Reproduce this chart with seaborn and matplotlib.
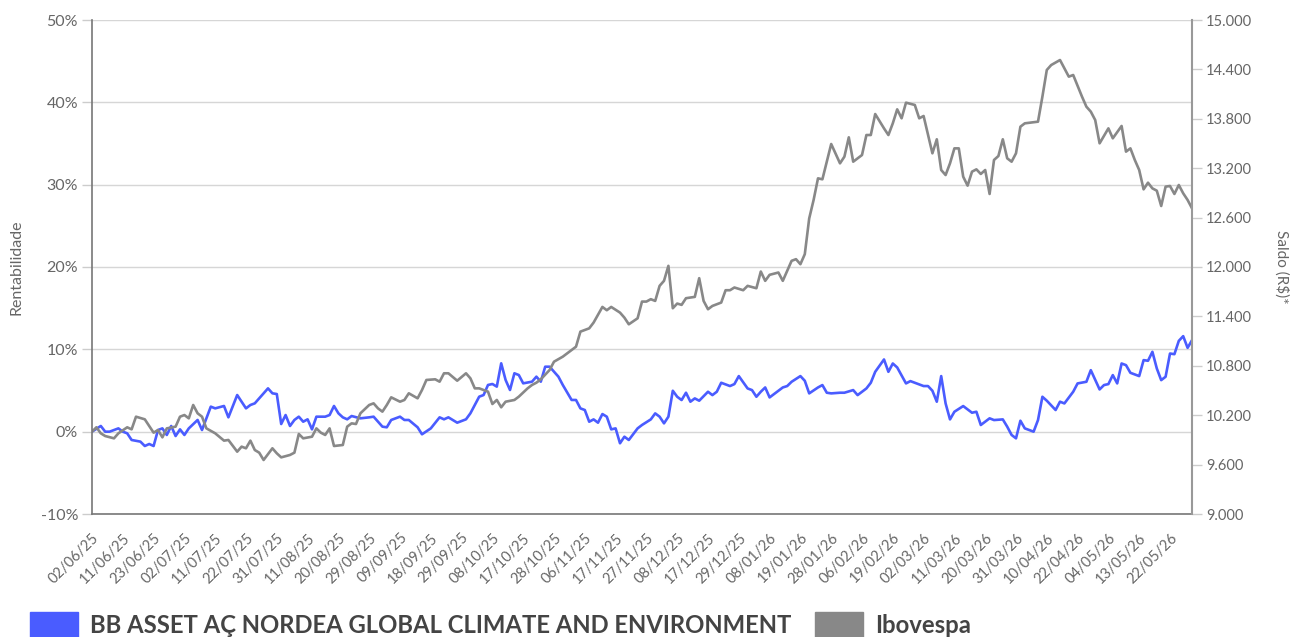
import numpy as np
import pandas as pd
import seaborn as sns
import matplotlib.pyplot as plt
from matplotlib.patches import Patch
from matplotlib.transforms import ScaledTranslation

# rótulos do eixo x, um a cada 7 pregões
tick_labels = ['02/06/25', '11/06/25', '23/06/25', '02/07/25', '11/07/25', '22/07/25',
               '31/07/25', '11/08/25', '20/08/25', '29/08/25', '09/09/25', '18/09/25',
               '29/09/25', '08/10/25', '17/10/25', '28/10/25', '06/11/25', '17/11/25',
               '27/11/25', '08/12/25', '17/12/25', '29/12/25', '08/01/26', '19/01/26',
               '28/01/26', '06/02/26', '19/02/26', '02/03/26', '11/03/26', '20/03/26',
               '31/03/26', '10/04/26', '22/04/26', '04/05/26', '13/05/26', '22/05/26']
tick_step = 7

fund_name = 'BB ASSET AÇ NORDEA GLOBAL CLIMATE AND ENVIRONMENT'
ibov_name = 'Ibovespa'

# pregão (índice) e rentabilidade acumulada (%)
fund_days = [0, 2, 3, 4, 6, 7, 8, 9, 11, 12, 13, 14, 15, 16, 17, 18, 19, 20, 21, 22, 24, 25, 27, 28,
             30, 31, 33, 35, 36, 37, 40, 41, 42, 43, 44, 45, 46, 47, 48, 49, 50, 51, 53, 54, 55, 56,
             57, 58, 59, 61, 63, 64, 66, 67, 68, 70, 71, 72, 74, 75, 77, 79, 80, 81, 83, 85, 86, 88,
             89, 90, 91, 92, 93, 94, 95, 96, 97, 98, 100, 101, 102, 103, 104, 106, 107, 109, 110,
             111, 112, 113, 114, 115, 116, 117, 118, 119, 120, 121, 122, 124, 125, 127, 128, 129,
             130, 131, 132, 133, 134, 135, 136, 137, 138, 140, 141, 142, 143, 145, 146, 147, 149,
             150, 151, 152, 153, 154, 157, 158, 159, 161, 162, 163, 165, 166, 167, 168, 170, 171,
             173, 174, 176, 177, 178, 180, 181, 182, 183, 185, 186, 187, 189, 190, 191, 192, 193,
             194, 195, 196, 198, 200, 201, 202, 204, 205, 207, 208, 209, 210, 211, 212, 214, 215,
             216, 217, 219, 220, 221, 223, 224, 226, 227, 229, 230, 231, 232, 233, 234, 235, 236,
             238, 239, 240, 241, 242, 243, 244, 245, 246, 247, 248, 249, 250]
fund_pct = [0.0, 0.69, 0.0, 0.0, 0.40, 0.0, -0.20, -1.01, -1.21, -1.74, -1.50, -1.74, 0.20, 0.40,
            -0.40, 0.69, -0.53, 0.28, -0.40, 0.40, 1.42, 0.20, 3.04, 2.83, 3.12, 1.74, 4.45, 2.83,
            3.24, 3.44, 5.26, 4.66, 4.57, 0.93, 2.02, 0.69, 1.42, 1.82, 1.21, 1.50, 0.28, 1.82,
            1.82, 2.02, 3.12, 2.23, 1.74, 1.50, 1.90, 1.62, 1.74, 1.82, 0.61, 0.53, 1.42, 1.82,
            1.42, 1.42, 0.53, -0.32, 0.40, 1.74, 1.50, 1.74, 1.09, 1.50, 2.23, 4.25, 4.45, 5.67,
            5.79, 5.47, 8.30, 6.28, 5.06, 7.09, 6.88, 5.87, 6.07, 6.68, 6.07, 7.89, 7.89, 6.68,
            5.67, 3.85, 3.85, 2.83, 2.63, 1.21, 1.49, 1.09, 2.14, 1.82, 0.28, 0.40, -1.41, -0.61,
            -1.01, 0.40, 0.81, 1.49, 2.22, 1.82, 1.01, 1.82, 4.97, 4.24, 3.84, 4.73, 3.64, 4.04,
            3.76, 4.85, 4.44, 4.85, 5.94, 5.54, 5.78, 6.75, 5.25, 5.05, 4.24, 4.85, 5.37, 4.16,
            5.37, 5.54, 6.06, 6.75, 6.18, 4.65, 5.37, 5.66, 4.73, 4.65, 4.73, 4.73, 5.05, 4.44,
            5.25, 5.94, 7.27, 8.77, 7.27, 8.28, 7.80, 5.86, 6.14, 5.94, 5.54, 5.54, 4.97, 3.64,
            6.75, 3.43, 1.49, 2.42, 3.11, 2.30, 2.42, 0.81, 1.62, 1.41, 1.49, 0.61, -0.40, -0.81,
            1.33, 0.40, 0.00, 1.41, 4.24, 3.76, 2.63, 3.64, 3.43, 4.85, 5.86, 6.06, 7.47, 5.13,
            5.66, 5.78, 6.87, 5.86, 8.28, 8.08, 7.15, 6.75, 8.69, 8.61, 9.70, 7.68, 6.26, 6.67,
            9.49, 9.41, 11.03, 11.60, 10.18, 11.11]

ibov_days = [0, 1, 2, 3, 5, 6, 8, 9, 10, 12, 13, 14, 15, 16, 17, 19, 20, 21, 22, 23, 24, 25, 26,
             28, 30, 31, 33, 34, 35, 36, 37, 38, 39, 41, 42, 43, 45, 46, 47, 48, 50, 51, 52, 53,
             54, 55, 57, 58, 59, 60, 61, 63, 64, 65, 66, 67, 68, 70, 71, 72, 74, 75, 76, 78, 79,
             80, 81, 83, 85, 86, 87, 88, 90, 91, 92, 93, 94, 96, 97, 99, 100, 101, 102, 104, 105,
             107, 109, 110, 111, 113, 114, 116, 117, 118, 120, 121, 122, 124, 125, 126, 127, 128,
             129, 130, 131, 132, 133, 134, 135, 137, 138, 139, 140, 141, 143, 144, 145, 146, 148,
             149, 151, 152, 153, 154, 156, 157, 159, 160, 161, 162, 163, 164, 165, 166, 168, 170,
             171, 172, 173, 175, 176, 177, 178, 180, 181, 182, 183, 184, 185, 187, 188, 189, 191,
             192, 193, 194, 195, 196, 197, 198, 199, 200, 201, 202, 203, 204, 205, 206, 207, 208,
             209, 210, 211, 212, 215, 216, 217, 218, 220, 221, 222, 223, 225, 226, 227, 228, 229,
             231, 232, 234, 235, 236, 237, 238, 239, 240, 241, 242, 243, 244, 245, 246, 247, 248,
             249, 250]
ibov_pct = [0.0, 0.53, -0.20, -0.53, -0.81, -0.20, 0.53, 0.28, 1.82, 1.50, 0.69, -0.12, 0.20,
            -0.69, 0.40, 0.61, 1.82, 2.02, 1.62, 3.24, 2.23, 1.82, 0.40, -0.20, -1.09, -1.01,
            -2.43, -1.82, -2.02, -1.09, -2.23, -2.55, -3.44, -2.02, -2.63, -3.12, -2.83, -2.55,
            -0.28, -0.81, -0.61, 0.40, -0.12, -0.40, 0.40, -1.74, -1.62, 0.61, 1.01, 0.93, 2.23,
            3.24, 3.44, 2.83, 2.43, 3.24, 4.17, 3.64, 3.85, 4.66, 4.05, 5.06, 6.28, 6.36, 6.07,
            7.09, 7.09, 6.19, 7.09, 6.48, 5.26, 5.26, 4.86, 3.36, 3.85, 2.96, 3.64, 3.85, 4.25,
            5.26, 5.67, 5.95, 6.36, 7.49, 8.50, 9.11, 9.92, 10.32, 12.15, 12.55, 13.25, 15.15,
            14.75, 15.15, 14.46, 13.85, 13.04, 13.77, 15.80, 15.80, 16.09, 15.88, 17.71, 18.32,
            20.14, 14.99, 15.56, 15.40, 16.21, 16.37, 18.64, 15.88, 14.87, 15.27, 15.68, 17.18,
            17.18, 17.51, 17.18, 17.71, 17.42, 19.45, 18.32, 19.05, 19.33, 18.32, 20.75, 20.95,
            20.34, 21.56, 25.90, 28.14, 30.77, 30.65, 34.94, 32.59, 33.40, 35.75, 32.79, 33.60,
            36.03, 36.03, 38.58, 36.84, 36.03, 37.45, 39.15, 38.06, 39.96, 39.68, 38.06, 38.34,
            33.81, 35.51, 31.78, 31.17, 32.59, 34.41, 34.41, 30.97, 29.88, 31.58, 31.86, 31.30,
            31.78, 28.87, 33.00, 33.48, 35.51, 33.20, 32.79, 33.81, 37.04, 37.45, 37.65, 40.69,
            43.93, 44.53, 45.14, 44.13, 43.12, 43.32, 40.69, 39.47, 38.87, 37.85, 35.02, 36.84,
            35.63, 37.13, 34.01, 34.41, 33.00, 31.78, 29.43, 30.24, 29.55, 29.27, 27.41, 29.76,
            29.84, 28.87, 29.96, 28.95, 28.14, 27.13]

left_ticks = [-10, 0, 10, 20, 30, 40, 50]
right_ticks = [9000, 9600, 10200, 10800, 11400, 12000, 12600, 13200, 13800, 14400, 15000]
saldo_base = 10000

blue = '#4a5cff'
gray = '#888888'
txt = '#666666'

df = pd.concat([
    pd.DataFrame({'dia': fund_days, 'rent': fund_pct, 'serie': fund_name}),
    pd.DataFrame({'dia': ibov_days, 'rent': ibov_pct, 'serie': ibov_name}),
])

sns.set_theme(style='white')
plt.rcParams['font.family'] = ['Lato', 'DejaVu Sans']

fig = plt.figure(figsize=(12.9, 6.37), dpi=100)
ax = fig.add_axes([92 / 1290, 1 - 514 / 637, 1100 / 1290, 494 / 637])

sns.lineplot(data=df, x='dia', y='rent', hue='serie', hue_order=[fund_name, ibov_name],
             palette=[blue, gray], linewidth=1.9, legend=False, sort=False, ax=ax)

ax.set_xlim(0, max(fund_days))
ax.set_ylim(left_ticks[0], left_ticks[-1])
ax.set_yticks(left_ticks)
ax.set_yticklabels([f'{v}%' for v in left_ticks])
ax.grid(axis='y', color='#d6d6d6', linewidth=1)
ax.set_axisbelow(True)

xt = np.arange(len(tick_labels)) * tick_step
ax.set_xticks(xt)
ax.set_xticklabels(tick_labels, rotation=45, ha='right', va='top', rotation_mode='anchor')
off = ScaledTranslation(7 / 100, 0, fig.dpi_scale_trans)
for lab in ax.get_xticklabels():
    lab.set_transform(lab.get_transform() + off)

ax.tick_params(axis='x', length=0, pad=12, labelsize=10.5, colors=txt)
ax.tick_params(axis='y', length=7, width=1, color='#cccccc', pad=3, labelsize=11.5, labelcolor=txt, left=True)
ax.set_xlabel('')
ax.set_ylabel('Rentabilidade', color=txt, fontsize=11.5, labelpad=12)

ax.spines['top'].set_visible(False)
for s in ['left', 'bottom', 'right']:
    ax.spines[s].set_color('#777777')
    ax.spines[s].set_linewidth(1.2)

# eixo secundário: saldo de R$ 10.000 aplicados
ax2 = ax.twinx()
ax2.set_ylim(saldo_base * (1 + left_ticks[0] / 100), saldo_base * (1 + left_ticks[-1] / 100))
ax2.set_yticks(right_ticks)
ax2.set_yticklabels([f'{v:,.0f}'.replace(',', '.') for v in right_ticks])
ax2.tick_params(axis='y', length=7, width=1, color='#cccccc', pad=3, labelsize=10.5, labelcolor=txt, right=True)
ax2.set_ylabel('Saldo (R$)*', color=txt, fontsize=11, rotation=270, labelpad=27)
ax2.grid(False)
for s in ['top', 'left', 'bottom']:
    ax2.spines[s].set_visible(False)
ax2.spines['right'].set_color('#999999')
ax2.spines['right'].set_linewidth(1.5)

handles = [Patch(color=blue, label=fund_name), Patch(color=gray, label=ibov_name)]
leg = fig.legend(handles=handles, loc='upper left', bbox_to_anchor=(30 / 1290, 1 - 612 / 637),
                 ncol=2, frameon=False, borderpad=0, borderaxespad=0, handlelength=2.0,
                 handleheight=1.3, handletextpad=0.5, columnspacing=1.0,
                 prop={'size': 17.2, 'weight': 'bold'})
for t in leg.get_texts():
    t.set_color('#444444')

fig.savefig('out.png', dpi=100)
